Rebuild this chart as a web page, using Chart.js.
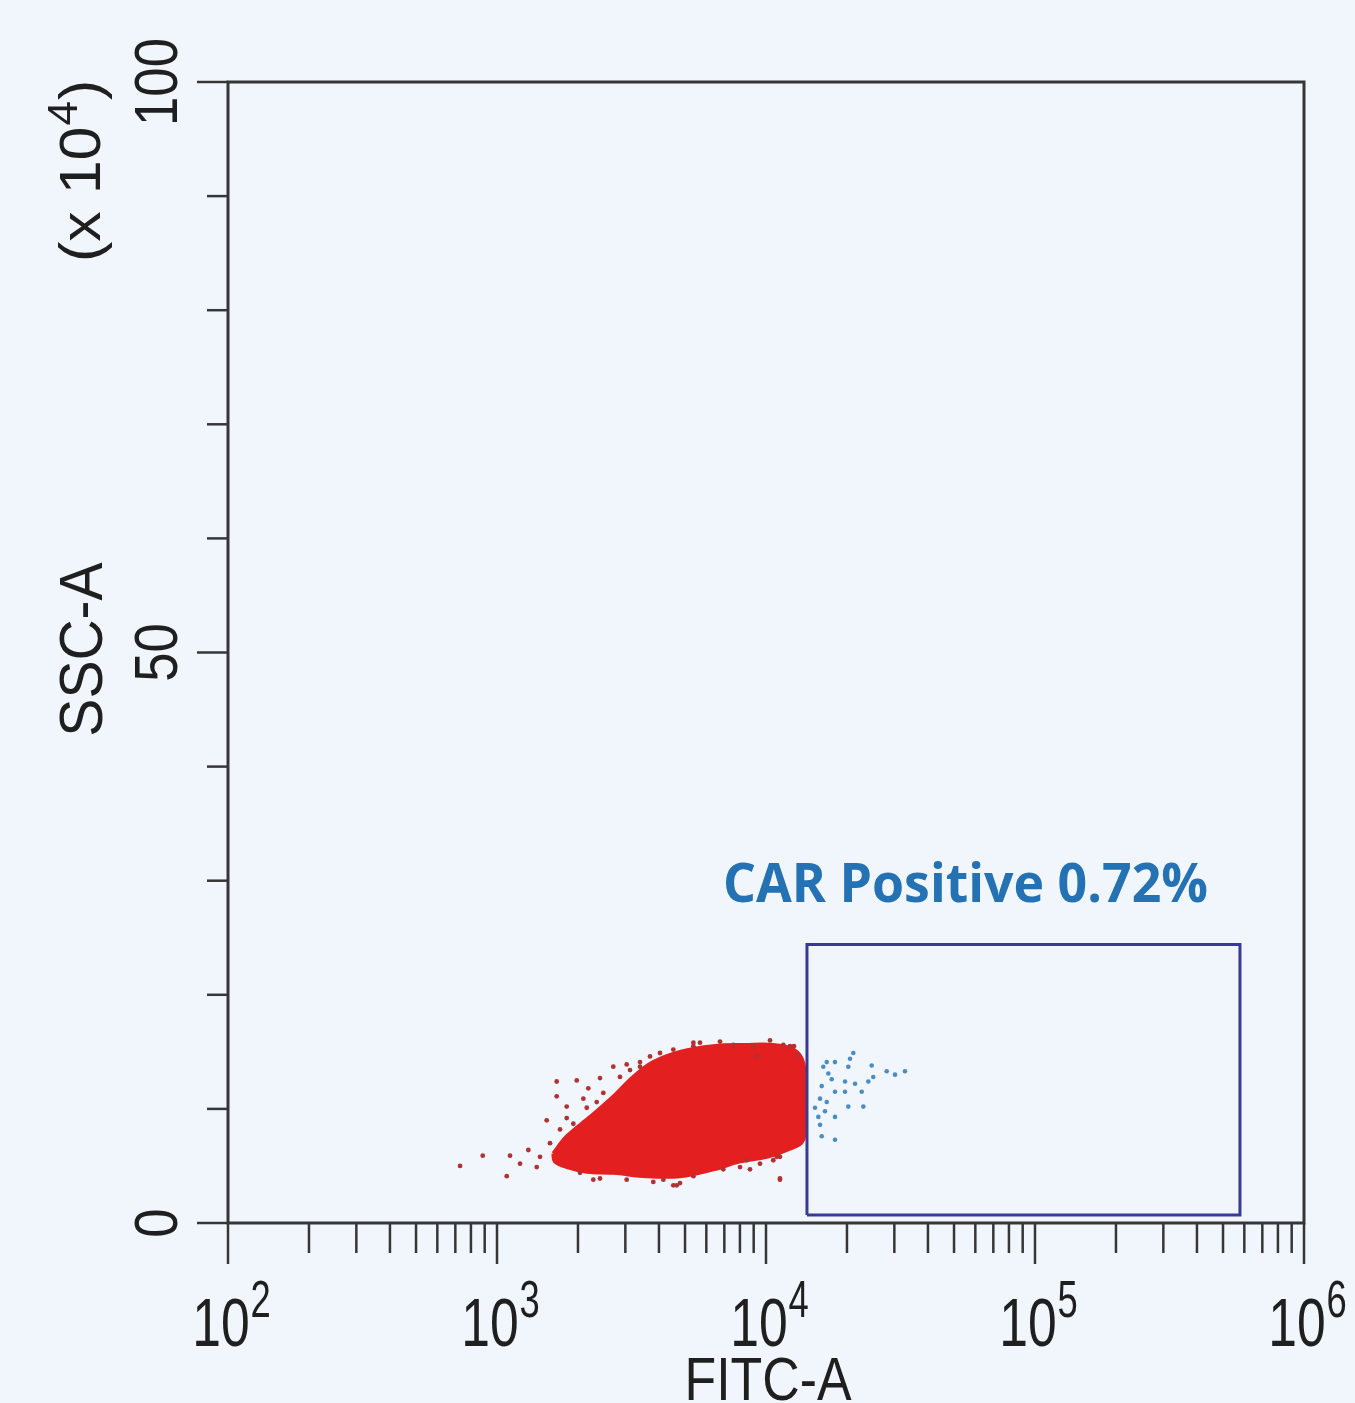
<!DOCTYPE html>
<html>
<head>
<meta charset="utf-8">
<script src="https://cdn.jsdelivr.net/npm/chart.js@4.4.1/dist/chart.umd.min.js"></script>
<style>
  html, body { margin: 0; padding: 0; background: #f0f6fc; }
  #wrap { width: 1355px; height: 1403px; }
  canvas { display: block; }
</style>
</head>
<body>
<div id="wrap"><canvas id="c" width="1355" height="1403"></canvas></div>
<script>
// ---------- data ----------
const xTickValues = [1e2, 1e3, 1e4, 1e5, 1e6];
const xTickBase = '10';
const xTickExponents = ['2', '3', '4', '5', '6'];
const yTickValues = [0, 50, 100];
const yTickLabels = ['0', '50', '100'];
const yMinorValues = [10, 20, 30, 40, 60, 70, 80, 90];
const xAxisTitle = 'FITC-A';
const yAxisTitle = 'SSC-A';
const yAxisUnit = ['(x 10', '4', ')'];

const gateLabel = 'CAR Positive 0.72%';
const gateX = [14200, 578000];
const gateY = [0.7, 24.4];
const gateLabelAnchor = [6920, 28.1];

// outline of the dense (saturated) red population
const coreOutlineX = [1620, 1820, 2220, 2710, 3210, 3810, 4790, 6370, 8480, 10640, 12630, 13760,
                      13960, 13760, 11940, 10060, 8010, 6370, 4790, 3600, 2710, 2160, 1820, 1640];
const coreOutlineY = [6.1, 7.6, 9.3, 11.1, 12.8, 14.1, 15.0, 15.5, 15.6, 15.6, 15.2, 14.0,
                      11.1, 7.3, 6.4, 5.8, 5.4, 4.7, 4.1, 4.1, 4.4, 4.5, 4.9, 5.4];

// scattered CAR-negative events around the core
const negEventsX = [729, 885, 1087, 1118, 1218, 1308, 1405, 1530, 1667, 1667,
                    1816, 1816, 1979, 2094, 2185, 2280, 2415, 2485, 2706, 2865,
                    3122, 3401, 3706, 4153, 4523, 4790, 5370, 6745, 8007, 8720,
                    9235, 10350, 11270, 11270, 12280, 4656, 8478, 10960, 11270, 5685, 12700,
                    3035, 3401, 4036, 4523, 5370, 7558, 8972, 11600, 13190,
                    2035, 2415, 3035, 3811, 5370, 6938, 9500, 10644,
                    1445, 1574, 1715, 1922, 2156, 2348];
const negEventsY = [5.0, 5.9, 4.1, 5.9, 5.2, 6.4, 4.9, 9.0, 12.4, 11.1,
                    10.2, 9.2, 12.5, 10.9, 11.8, 3.8, 12.7, 11.4, 13.7, 12.8,
                    13.4, 13.7, 14.6, 3.8, 3.3, 3.5, 15.8, 15.9, 4.9, 4.7,
                    14.6, 16.0, 5.8, 3.8, 15.5, 3.3, 5.5, 5.8, 3.9, 15.8, 15.5,
                    13.9, 14.1, 14.9, 15.2, 15.5, 15.6, 15.5, 15.6, 14.7,
                    4.4, 3.9, 3.8, 3.6, 4.1, 4.7, 5.2, 5.5,
                    5.8, 7.0, 8.2, 8.7, 10.1, 10.6];

// CAR-positive events (blue)
const posEventsX = [21115, 20530, 16815, 18050, 16330, 24710, 20230, 28100, 30170, 32860,
                    17045, 17550, 25050, 24010, 19670, 21430, 16110, 18050, 19670, 22690,
                    16815, 15880, 20230, 23000, 18050, 15880, 16110, 18050, 16570, 15650, 15210];
const posEventsY = [14.9, 14.4, 14.1, 14.1, 13.7, 13.8, 13.7, 13.3, 13.0, 13.3,
                    13.1, 12.6, 12.8, 12.4, 12.4, 12.2, 12.0, 11.5, 11.5, 11.5,
                    10.6, 10.9, 10.2, 10.2, 9.3, 8.6, 7.6, 7.3, 9.8, 9.3, 10.1];

// ---------- build datasets ----------
const toPts = (xs, ys) => xs.map((x, i) => ({ x: x, y: ys[i] }));
const corePts = toPts(coreOutlineX, coreOutlineY);
corePts.push(corePts[0]);
const gatePts = toPts([gateX[0], gateX[0], gateX[1], gateX[1], gateX[0]],
                      [gateY[0], gateY[1], gateY[1], gateY[0], gateY[0]]);

const BG = '#f0f6fc';
const INK = '#1f1f1f';
const FRAME = '#363636';

function drawText(ctx, s, x, y, font, sx, rot, align) {
  ctx.save();
  ctx.translate(x, y);
  ctx.rotate(rot);
  ctx.scale(sx, 1);
  ctx.font = font;
  ctx.textAlign = align;
  ctx.textBaseline = 'alphabetic';
  ctx.fillText(s, 0, 0);
  ctx.restore();
}
function textWidth(ctx, s, font, sx) {
  ctx.save(); ctx.font = font; const w = ctx.measureText(s).width * sx; ctx.restore(); return w;
}

const bgPlugin = {
  id: 'bg',
  beforeDraw(chart) {
    const ctx = chart.ctx;
    ctx.save(); ctx.fillStyle = BG; ctx.fillRect(0, 0, chart.width, chart.height); ctx.restore();
  }
};

const axesPlugin = {
  id: 'flowAxes',
  afterDatasetsDraw(chart) {
    const ctx = chart.ctx;
    const xs = chart.scales.x, ys = chart.scales.y;
    const { left, right, top, bottom } = chart.chartArea;
    ctx.save();
    ctx.strokeStyle = FRAME;
    ctx.lineWidth = 3;
    ctx.lineCap = 'butt';
    ctx.strokeRect(left, top, right - left, bottom - top);
    const line = (x1, y1, x2, y2) => { ctx.beginPath(); ctx.moveTo(x1, y1); ctx.lineTo(x2, y2); ctx.stroke(); };
    // y ticks
    ctx.lineWidth = 2.5;
    yTickValues.forEach(v => { const p = ys.getPixelForValue(v); line(left - 31, p, left, p); });
    yMinorValues.forEach(v => { const p = ys.getPixelForValue(v); line(left - 21, p, left, p); });
    // x ticks (log decades with minor ticks)
    for (let d = 0; d < xTickValues.length; d++) {
      const v0 = xTickValues[d];
      const p = xs.getPixelForValue(v0);
      line(p, bottom, p, bottom + 41);
      if (d < xTickValues.length - 1) {
        for (let k = 2; k <= 9; k++) {
          const pm = xs.getPixelForValue(v0 * k);
          line(pm, bottom, pm, bottom + 30);
        }
      }
    }
    ctx.fillStyle = INK;
    // x tick labels with superscripts
    const baseFont = '68px "Liberation Sans", Arial, sans-serif';
    const expFont = '52px "Liberation Sans", Arial, sans-serif';
    xTickValues.forEach((v, i) => {
      const p = xs.getPixelForValue(v);
      const wb = textWidth(ctx, xTickBase, baseFont, 0.76);
      const we = textWidth(ctx, xTickExponents[i], expFont, 0.7);
      const start = p + 3 - (wb + we) / 2;
      drawText(ctx, xTickBase, start, bottom + 123, baseFont, 0.76, 0, 'left');
      drawText(ctx, xTickExponents[i], start + wb + 1, bottom + 94, expFont, 0.7, 0, 'left');
    });
    // y tick labels (rotated)
    const yFont = '62px "Liberation Sans", Arial, sans-serif';
    yTickValues.forEach((v, i) => {
      const p = ys.getPixelForValue(v);
      drawText(ctx, yTickLabels[i], left - 51, p, yFont, 0.85, -Math.PI / 2, 'center');
    });
    // axis titles
    drawText(ctx, xAxisTitle, (left + right) / 2 + 2, bottom + 177,
             '62px "Liberation Sans", Arial, sans-serif', 0.836, 0, 'center');
    drawText(ctx, yAxisTitle, left - 126, (top + bottom) / 2 - 3,
             '61px "Liberation Sans", Arial, sans-serif', 0.935, -Math.PI / 2, 'center');
    // unit "(x 10^4)"
    const uFont = '58px "Liberation Sans", Arial, sans-serif';
    const uExpFont = '42px "Liberation Sans", Arial, sans-serif';
    const w1 = textWidth(ctx, yAxisUnit[0], uFont, 1.05);
    const w2 = textWidth(ctx, yAxisUnit[1], uExpFont, 1.05);
    const uy = top + 180;
    drawText(ctx, yAxisUnit[0], left - 128, uy, uFont, 1.05, -Math.PI / 2, 'left');
    drawText(ctx, yAxisUnit[1], left - 151, uy - w1 - 1, uExpFont, 1.05, -Math.PI / 2, 'left');
    drawText(ctx, yAxisUnit[2], left - 128, uy - w1 - w2 - 2, uFont, 1.05, -Math.PI / 2, 'left');
    // gate label
    ctx.fillStyle = '#2472b4';
    drawText(ctx, gateLabel, xs.getPixelForValue(gateLabelAnchor[0]), ys.getPixelForValue(gateLabelAnchor[1]),
             'bold 54px "Open Sans", "Noto Sans", sans-serif', 0.96, 0, 'left');
    ctx.restore();
  }
};

new Chart(document.getElementById('c'), {
  type: 'scatter',
  data: {
    datasets: [
      {
        label: 'core',
        data: corePts,
        showLine: true,
        fill: 'shape',
        backgroundColor: '#e41f1f',
        borderColor: '#e41f1f',
        borderWidth: 4,
        tension: 0.35,
        pointRadius: 0,
        order: 3
      },
      {
        label: 'negative events',
        data: toPts(negEventsX, negEventsY),
        backgroundColor: '#b03232',
        borderWidth: 0,
        pointRadius: 2.4,
        order: 2
      },
      {
        label: 'positive events',
        data: toPts(posEventsX, posEventsY),
        backgroundColor: '#4a8cc6',
        borderWidth: 0,
        pointRadius: 2.3,
        order: 1
      },
      {
        label: 'gate',
        data: gatePts,
        showLine: true,
        fill: false,
        borderColor: '#3a3a96',
        borderWidth: 3,
        pointRadius: 0,
        tension: 0,
        order: 0
      }
    ]
  },
  options: {
    responsive: false,
    animation: false,
    devicePixelRatio: 1,
    layout: { padding: { left: 228, top: 82, right: 51, bottom: 180 } },
    plugins: { legend: { display: false }, tooltip: { enabled: false } },
    scales: {
      x: { type: 'logarithmic', min: 100, max: 1e6, display: false },
      y: { type: 'linear', min: 0, max: 100, display: false }
    }
  },
  plugins: [bgPlugin, axesPlugin]
});
</script>
</body>
</html>
